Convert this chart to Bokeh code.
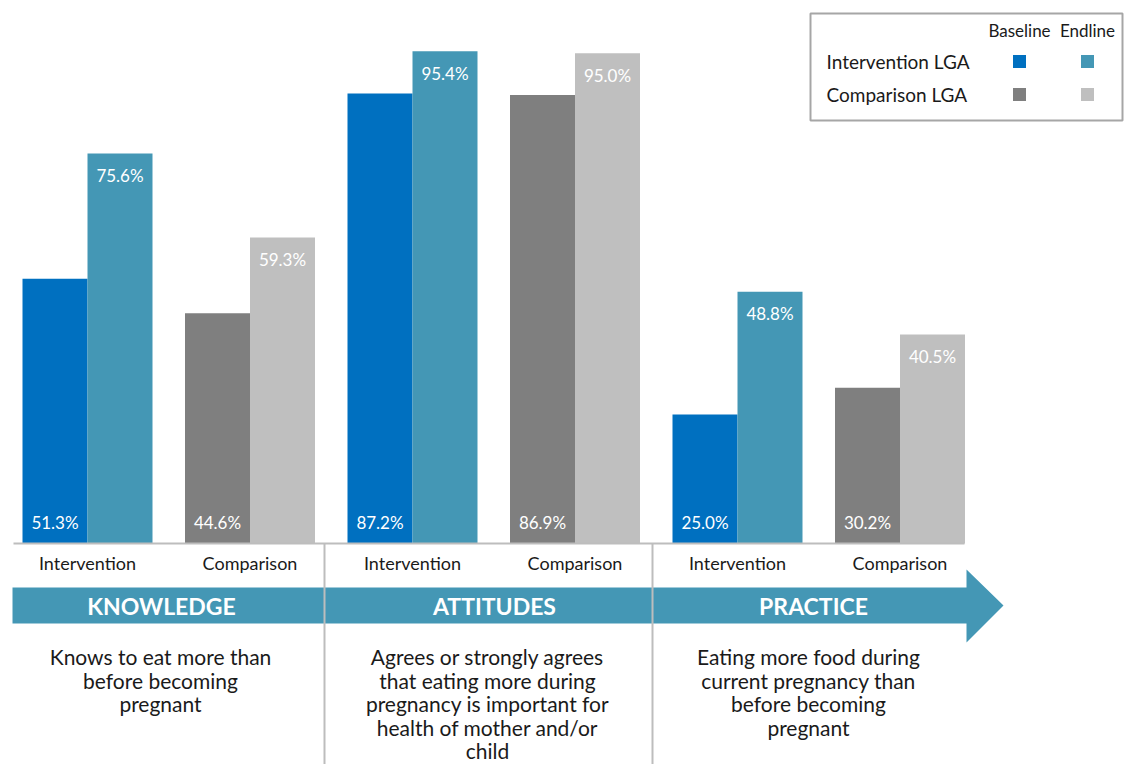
from bokeh.plotting import figure
from bokeh.models import Range1d, ColumnDataSource
from bokeh.core.properties import value
from bokeh.embed import file_html
from bokeh.resources import INLINE

# ---- data ----
domains = ["KNOWLEDGE", "ATTITUDES", "PRACTICE"]
groups = ["Intervention", "Comparison", "Intervention", "Comparison", "Intervention", "Comparison"]
baseline = [51.3, 44.6, 87.2, 86.9, 25.0, 30.2]
endline = [75.6, 59.3, 95.4, 95.0, 48.8, 40.5]
descriptions = [
    ["Knows to eat more than", "before becoming", "pregnant"],
    ["Agrees or strongly agrees", "that eating more during", "pregnancy is important for",
     "health of mother and/or", "child"],
    ["Eating more food during", "current pregnancy than", "before becoming", "pregnant"],
]
legend_rows = ["Intervention LGA", "Comparison LGA"]
legend_cols = ["Baseline", "Endline"]

# ---- style ----
FONT = value("Lato")
C_INT_B = "#0070C0"
C_INT_E = "#4497B5"
C_CMP_B = "#7F7F7F"
C_CMP_E = "#BFBFBF"
SEP = "#BDBDBD"
TXT = "#1A1A1A"

W, H = 1124, 764
BASE = 543.0      # pixel row of the 0 % line
PXP = 5.16        # pixels per percentage point


def py(yimg):
    return (BASE - yimg) / PXP


p = figure(width=W, height=H, output_backend="svg", toolbar_location=None,
           x_range=Range1d(0, W), y_range=Range1d(py(H), py(0)),
           x_axis_type=None, y_axis_type=None, min_border=0)
p.grid.visible = False
p.outline_line_color = None
p.background_fill_color = "white"

# ---- bars ----
BW = 65
STEP = 162.5
X0 = 87
centers = [X0 + STEP * i for i in range(len(groups))]
xb = [c - BW / 2 for c in centers]
xe = [c + BW / 2 for c in centers]
cb = [C_INT_B if g == "Intervention" else C_CMP_B for g in groups]
ce = [C_INT_E if g == "Intervention" else C_CMP_E for g in groups]

src = ColumnDataSource(dict(xb=xb, xe=xe, b=baseline, e=endline, cb=cb, ce=ce,
                            lb=[f"{v:.1f}%" for v in baseline],
                            le=[f"{v:.1f}%" for v in endline],
                            cx=centers, g=groups))
p.vbar(x="xb", top="b", bottom=0, width=BW, fill_color="cb", line_color=None, source=src)
p.vbar(x="xe", top="e", bottom=0, width=BW, fill_color="ce", line_color=None, source=src)

p.text(x="xb", y=0, text="lb", source=src, text_color="white", text_font=FONT,
       text_font_size="17px", text_align="center", text_baseline="middle", y_offset=-21)
p.text(x="xe", y="e", text="le", source=src, text_color="white", text_font=FONT,
       text_font_size="17px", text_align="center", text_baseline="middle", y_offset=22)

# ---- axis line and category labels ----
p.segment(x0=13, y0=0, x1=964, y1=0, line_color=SEP, line_width=2)
p.text(x="cx", y=py(562), text="g", source=src, text_color=TXT, text_font=FONT,
       text_font_size="18px", text_align="center", text_baseline="middle")

# ---- arrow ----
ax = [12, 966, 966, 1003, 966, 966, 12]
ay = [py(587), py(587), py(569), py(605), py(642), py(623), py(623)]
p.patch(ax, ay, fill_color=C_INT_E, line_color=None)

# ---- section separators ----
for xs in [324, 652]:
    p.segment(x0=xs, y0=0, x1=xs, y1=py(790), line_color=SEP, line_width=2)

dom_x = [161, 494, 813]
p.text(x=dom_x, y=[py(605)] * 3, text=domains, text_color="white", text_font=FONT,
       text_font_size="23px", text_font_style="bold", text_align="center",
       text_baseline="middle")

# ---- descriptions ----
desc_x = [160, 487, 808]
for dx, lines in zip(desc_x, descriptions):
    ys = [py(656 + 23.5 * k) for k in range(len(lines))]
    p.text(x=[dx] * len(lines), y=ys, text=lines, text_color=TXT, text_font=FONT,
           text_font_size="21px", text_align="center", text_baseline="middle")

# ---- legend ----
LX0, LX1, LY0, LY1 = 810, 1122, 13, 120
p.quad(left=LX0, right=LX1, top=py(LY0), bottom=py(LY1), fill_color="white",
       line_color="#A6A6A6", line_width=2)
col_x = [1019, 1087]
p.text(x=col_x, y=[py(30)] * 2, text=legend_cols, text_color=TXT, text_font=FONT,
       text_font_size="17px", text_align="center", text_baseline="middle")
row_y = [py(61), py(94)]
p.text(x=[826] * 2, y=row_y, text=legend_rows, text_color=TXT, text_font=FONT,
       text_font_size="19px", text_align="left", text_baseline="middle")
p.scatter(x=[col_x[0]] * 2, y=row_y, marker="square", size=13,
          fill_color=[C_INT_B, C_CMP_B], line_color=None)
p.scatter(x=[col_x[1]] * 2, y=row_y, marker="square", size=13,
          fill_color=[C_INT_E, C_CMP_E], line_color=None)

open("out.html", "w").write(file_html(p, INLINE))
